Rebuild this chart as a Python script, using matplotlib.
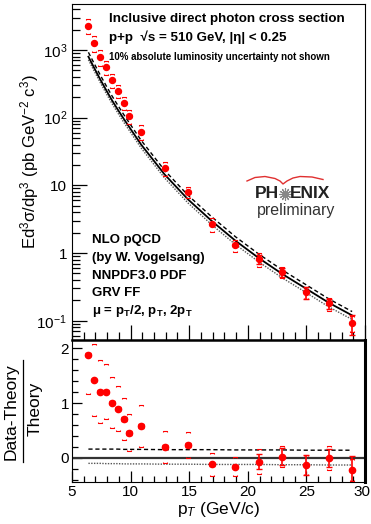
import numpy as np
import matplotlib
matplotlib.use("Agg")
import matplotlib.pyplot as plt
from matplotlib.path import Path
from matplotlib.transforms import ScaledTranslation
from matplotlib.ticker import FixedLocator, FixedFormatter, MultipleLocator, NullFormatter, LogLocator

plt.rcParams['font.family'] = ['Liberation Sans', 'DejaVu Sans']
plt.rcParams['mathtext.fontset'] = 'custom'
plt.rcParams['mathtext.rm'] = 'Liberation Sans'
plt.rcParams['mathtext.it'] = 'Liberation Sans:italic'
plt.rcParams['mathtext.bf'] = 'Liberation Sans:bold'

# data
pt = [6.4, 6.9, 7.4, 7.9, 8.4, 8.9, 9.4, 9.9, 10.9, 12.9, 14.9, 16.95, 18.95, 20.95, 22.95, 24.95, 26.9, 28.9]
xsec = [2290, 1280, 795, 554, 359, 247, 166, 105, 62, 17.8, 8.0, 2.7, 1.31, 0.81, 0.52, 0.266, 0.18, 0.093]
stat_rel = [0.01, 0.01, 0.012, 0.012, 0.015, 0.015, 0.02, 0.025, 0.025, 0.03, 0.03, 0.035, 0.04,
            0.145, 0.15, 0.2, 0.16, 0.33]
syst_rel = [0.25, 0.27, 0.26, 0.23, 0.23, 0.22, 0.22, 0.23, 0.24, 0.24, 0.19, 0.23, 0.21,
            0.24, 0.19, 0.2, 0.22, 0.26]
ratio = [1.88, 1.42, 1.21, 1.21, 1.01, 0.90, 0.71, 0.46, 0.58, 0.20, 0.24, -0.12, -0.16,
         -0.07, 0.02, -0.13, 0.0, -0.22]

# NLO pQCD (mu = pT) and scale variations relative to it
theory = [795, 540, 370, 258, 182, 132, 97, 72, 40, 14.5, 6.2, 2.95, 1.52, 0.84, 0.49, 0.30, 0.185, 0.12]
th_hi = [0.16, 0.16, 0.16, 0.16, 0.16, 0.16, 0.155, 0.155, 0.155, 0.15, 0.15, 0.15, 0.145, 0.145,
         0.145, 0.14, 0.14, 0.14]
th_lo = [-0.10, -0.10, -0.10, -0.105, -0.105, -0.105, -0.11, -0.11, -0.11, -0.115, -0.115, -0.12,
         -0.12, -0.12, -0.125, -0.125, -0.13, -0.13]

pt = np.array(pt); xsec = np.array(xsec); ratio = np.array(ratio)
stat_rel = np.array(stat_rel); syst_rel = np.array(syst_rel)
theory = np.array(theory); th_hi = np.array(th_hi); th_lo = np.array(th_lo)

W, H = 371, 524
fig = plt.figure(figsize=(W / 100, H / 100), dpi=100)
ax1 = fig.add_axes([72 / W, 1 - 340 / H, 293 / W, 336 / H])
ax2 = fig.add_axes([72 / W, 1 - 482 / H, 293 / W, 142 / H])

red = '#ff0000'
up_br = Path([(-1, -0.5), (-1, 0), (1, 0), (1, -0.5)])
dn_br = Path([(-1, 0.5), (-1, 0), (1, 0), (1, 0.5)])
br_kw = dict(ls='none', ms=3.3, mfc='none', mec=red, mew=0.8)

# ---- top panel
ax1.plot(pt, theory * (1 + th_hi), color='k', lw=1.0, ls=(0, (3, 2)))
ax1.plot(pt, theory * (1 + th_lo), color='#555555', lw=1.0, ls=(0, (1, 1)))
ax1.plot(pt, theory, color='k', lw=1.3)
ax1.plot(pt, xsec * (1 + syst_rel), marker=up_br, **br_kw)
ax1.plot(pt, xsec * (1 - syst_rel), marker=dn_br, **br_kw)
ax1.errorbar(pt, xsec, yerr=xsec * stat_rel, fmt='o', color=red, ms=4.3, elinewidth=1.2,
             capsize=2, capthick=1.0)
ax1.set_yscale('log')
ax1.set_xlim(5, 30)
ax1.set_ylim(0.052, 4770)
ax1.yaxis.set_major_locator(FixedLocator([0.1, 1, 10, 100, 1000]))
ax1.yaxis.set_major_formatter(FixedFormatter(['10$^{-1}$', '1', '10', '10$^{2}$', '10$^{3}$']))
ax1.yaxis.set_minor_locator(LogLocator(base=10, subs=np.arange(2, 10), numticks=20))
ax1.yaxis.set_minor_formatter(NullFormatter())
ax1.xaxis.set_major_locator(MultipleLocator(5))
ax1.xaxis.set_minor_locator(MultipleLocator(1))
ax1.tick_params(axis='x', labelbottom=False)
ax1.tick_params(which='major', direction='in', length=11, width=0.9, labelsize=11)
ax1.tick_params(which='minor', direction='in', length=5.5, width=0.9)
ax1.set_ylabel('Ed$^{3}$σ/dp$^{3}$ (pb GeV$^{-2}$ c$^{3}$)', fontsize=12)
ax1.yaxis.set_label_coords(-0.105, 0.53)

# ---- ratio panel
ax2.axhline(0, color='#333333', lw=1.6)
ax2.plot(pt, th_hi, color='k', lw=1.0, ls=(0, (3, 2)))
ax2.plot(pt, th_lo, color='#555555', lw=1.0, ls=(0, (1, 1)))
ax2.plot(pt, ratio + (1 + ratio) * syst_rel, marker=up_br, **br_kw)
ax2.plot(pt, ratio - (1 + ratio) * syst_rel, marker=dn_br, **br_kw)
ax2.errorbar(pt, ratio, yerr=(1 + ratio) * stat_rel, fmt='o', color=red, ms=4.5, elinewidth=1.2,
             capsize=2, capthick=1.0)
ax2.set_xlim(5, 30)
ax2.set_ylim(-0.44, 2.15)
ax2.yaxis.set_major_locator(MultipleLocator(1))
ax2.yaxis.set_minor_locator(MultipleLocator(0.2))
ax2.xaxis.set_major_locator(FixedLocator([5, 10, 15, 20, 25, 30]))
ax2.xaxis.set_minor_locator(MultipleLocator(1))
ax2.tick_params(which='major', direction='in', length=8, width=0.9, labelsize=11, pad=2)
ax2.tick_params(axis='y', which='major', length=7)
ax2.tick_params(which='minor', direction='in', length=4, width=0.9)
ax2.spines['top'].set_linewidth(1.8)
ax2.spines['right'].set_linewidth(2.2)
ax2.set_xlabel('p$_{T}$ (GeV/c)', fontsize=12.5, labelpad=1)

# nudge the last x tick label so it stays inside the canvas
fig.canvas.draw()
lab = ax2.xaxis.get_major_ticks()[-1].label1
lab.set_transform(lab.get_transform() + ScaledTranslation(-3.5 / 100, 0, fig.dpi_scale_trans))

# fraction label
fig.text(11 / W, 1 - 412 / H, 'Data-Theory', rotation=90, fontsize=12.5, ha='center', va='center')
fig.text(35 / W, 1 - 409 / H, 'Theory', rotation=90, fontsize=12.5, ha='center', va='center')
fig.add_artist(plt.Line2D([23 / W, 23 / W], [1 - 462 / H, 1 - 360 / H], color='k', lw=0.9))

# annotations
fig.text(109 / W, 1 - 19 / H, 'Inclusive direct photon cross section', fontsize=9.6,
         fontweight='bold', va='center')
fig.text(109 / W, 1 - 37 / H, 'p+p  √s = 510 GeV, |η| < 0.25', fontsize=9.6,
         fontweight='bold', va='center')
fig.text(109 / W, 1 - 57 / H, '10% absolute luminosity uncertainty not shown', fontsize=7,
         fontweight='bold', va='center')

left_txt = ['NLO pQCD', '(by W. Vogelsang)', 'NNPDF3.0 PDF', 'GRV FF',
            'μ = p$_\\mathbf{T}$/2, p$_\\mathbf{T}$, 2p$_\\mathbf{T}$']
left_y = [240, 258, 276, 293, 311]
for s, yy in zip(left_txt, left_y):
    fig.text(92 / W, 1 - yy / H, s, fontsize=9.5, fontweight='bold', va='center')

# PHENIX preliminary logo
fig.text(279 / W, 1 - 194 / H, 'PH', fontsize=12.5, fontweight='bold', ha='right', va='center',
         color='#222222')
fig.text(290 / W, 1 - 194 / H, 'ENIX', fontsize=12.5, fontweight='bold', ha='left', va='center',
         color='#222222')
fig.add_artist(plt.Line2D([284.5 / W], [1 - 194 / H], marker=(12, 2, 0), ms=9, mew=0.8,
                          color='#888888'))
fig.add_artist(plt.Line2D(np.array([247, 255, 265, 275, 280, 283, 287, 293, 300, 312, 323]) / W,
                          1 - np.array([181, 177.5, 176.5, 178.5, 181, 184, 181, 178, 176.5, 177, 179.5]) / H,
                          color='#e03030', lw=1.0))
fig.text(296 / W, 1 - 211 / H, 'preliminary', fontsize=11.5, ha='center', va='center',
         color='#333333')

fig.savefig('out.png', dpi=100)
